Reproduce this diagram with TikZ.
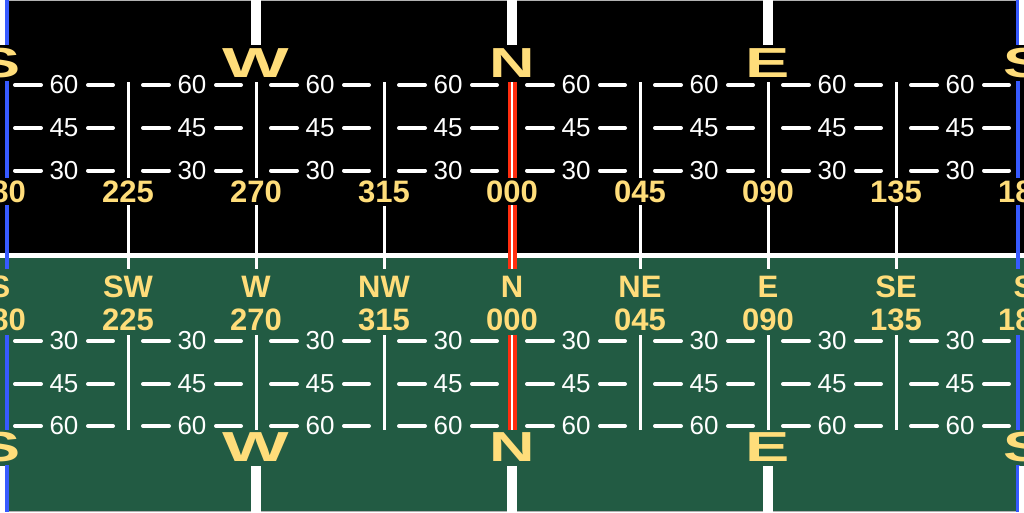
\documentclass[tikz,border=0pt]{standalone}
\usepackage{fontspec}
\setmainfont{Liberation Sans}
\usepackage{xcolor}
\usepackage{graphicx}
\usepackage{tikz}
\usetikzlibrary{positioning}

\definecolor{ballgreen}{RGB}{34,91,67}
\definecolor{tapeyellow}{RGB}{255,221,122}
\definecolor{northred}{RGB}{255,45,15}
\definecolor{southblue}{RGB}{55,90,255}

\begin{document}
\begin{tikzpicture}[x=1pt, y=-1pt]
% Define styles
\tikzstyle{heading} = [font=\fontsize{31}{31}\selectfont\bfseries, text=tapeyellow, inner xsep=2pt, inner ysep=3pt]
\tikzstyle{cardinal} = [font=\fontsize{42}{42}\selectfont\bfseries, text=tapeyellow, inner xsep=1pt, inner ysep=3pt]
\tikzstyle{pitch} = [font=\fontsize{26}{26}\selectfont, text=white, inner sep=0pt]
\tikzstyle{pitchbar} = [white, line width=4pt, line cap=round]
\tikzstyle{meridian} = [white, line width=3pt]
\tikzstyle{whitebar} = [white, line width=9.5pt]

\useasboundingbox (0,0) rectangle (1024,512);
\clip (0,0) rectangle (1024,512);

% Sky and ground
\fill[black] (0,0) rectangle (1024,255.5);
\fill[ballgreen] (0,255.5) rectangle (1024,512);
\draw[white, line width=4.5pt] (0,255.5) -- (1024,255.5);
\draw[gray!60, line width=1pt] (0,0.5) -- (1024,0.5);
\draw[gray!60, line width=1pt] (0,511.5) -- (1024,511.5);

% Meridians
\foreach \x in {128,256,384,640,768,896}
  \draw[meridian] (\x,82) -- (\x,430);
\draw[northred, line width=9pt] (512,82) -- (512,430);
\draw[white, line width=2.3pt] (512,82) -- (512,430);
\foreach \x in {6.8,1018}
  \draw[southblue, line width=4pt] (\x,0) -- (\x,512);

% Cardinal bars
\foreach \x in {0,256,512,768,1024} {
  \draw[whitebar] (\x,0) -- (\x,45);
  \draw[whitebar] (\x,466) -- (\x,512);
}

% Pitch scale
\foreach \x [count=\i] in {64,192,...,960} {
  \foreach \y/\p [count=\j] in {85/60,128/45,170.5/30,341/30,384/45,426/60} {
    \draw[pitchbar] (\x-49,\y) -- (\x-23,\y);
    \draw[pitchbar] (\x+24,\y) -- (\x+49,\y);
    \node[pitch] (pt\i-\j) at (\x,\y) {\p};
  }
}

% Headings
\foreach \x/\h/\d [count=\i] in {0/180/S,128/225/SW,256/270/W,384/315/NW,512/000/N,640/045/NE,768/090/E,896/135/SE,1024/180/S} {
  \node[heading, fill=black] (hdtop\i) at (\x,191.5) {\h};
  \node[heading, fill=ballgreen, inner ysep=7pt] (dir\i) at (\x,287) {\d};
  \node[heading, fill=ballgreen, inner ysep=4pt] (hdlow\i) at (\x,320) {\h};
}

% Cardinal letters
\foreach \x/\c/\s [count=\i] in {0/S/1.5,256/W/1.68,512/N/1.5,768/E/1.58,1024/S/1.5} {
  \node[cardinal, fill=black] (cartop\i) at (\x,63) {\scalebox{\s}[1]{\c}};
  \node[cardinal, fill=ballgreen] (carlow\i) at (\x,447.5) {\scalebox{\s}[1]{\c}};
}

\end{tikzpicture}
\end{document}
